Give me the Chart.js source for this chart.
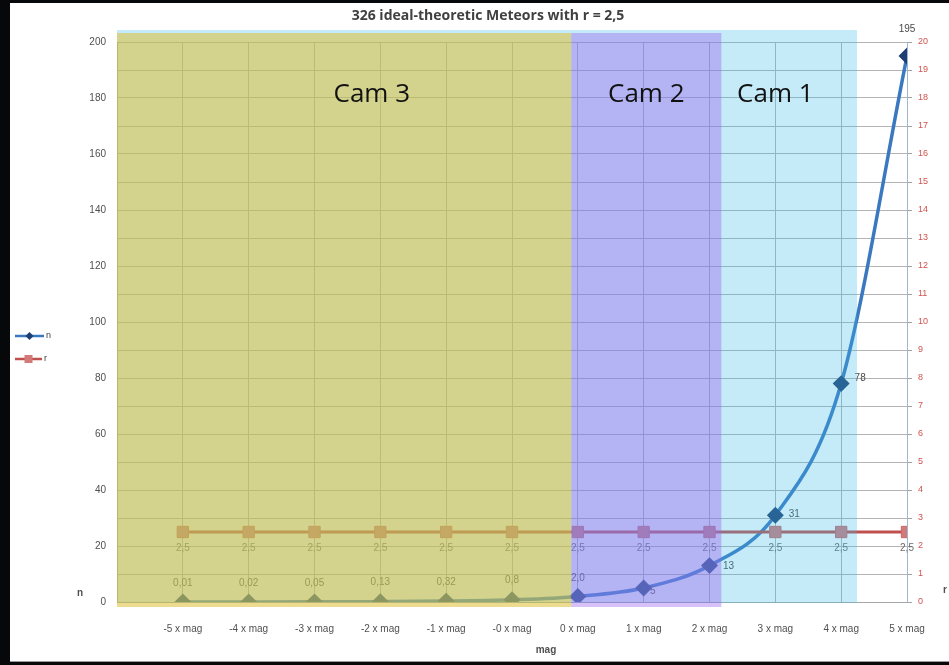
<!DOCTYPE html>
<html>
<head>
<meta charset="utf-8">
<script src="https://cdn.jsdelivr.net/npm/chart.js@4/dist/chart.umd.min.js"></script>
<style>
  html, body { margin: 0; padding: 0; background: #07080a; overflow: hidden; }
  #wrap { position: absolute; left: 0; top: 0; width: 949px; height: 665px; }
</style>
</head>
<body>
<div id="wrap"><canvas id="c" width="949" height="665"></canvas></div>
<script>
// magnitude classes along the x axis
const categories = ['-5 x mag', '-4 x mag', '-3 x mag', '-2 x mag', '-1 x mag', '-0 x mag',
                    '0 x mag', '1 x mag', '2 x mag', '3 x mag', '4 x mag', '5 x mag'];
// number of meteors per magnitude class (left axis)
const meteorsN = [0.01, 0.02, 0.05, 0.13, 0.32, 0.8, 2.0, 5, 13, 31, 78, 195];
// decimals shown in the value labels of n
const nDecimals = [2, 2, 2, 2, 2, 1, 1, 0, 0, 0, 0, 0];
// population index r (right axis)
const ratioR = [2.5, 2.5, 2.5, 2.5, 2.5, 2.5, 2.5, 2.5, 2.5, 2.5, 2.5, 2.5];
// axis ranges
const leftAxis = { min: 0, max: 200, labelStep: 20 };
const rightAxis = { min: 0, max: 20, step: 1 };
// camera zones (x in category units) and their captions
const camZones = [
  { name: 'Cam 1', from: -1, to: 10.24, labelAt: 9.0,  fill: 'rgba(62,185,232,0.30)', top: -12, bottom: 1 },
  { name: 'Cam 3', from: -1, to: 5.9,   labelAt: 2.87, fill: 'rgba(222,192,52,0.55)', top: -9,  bottom: 5 },
  { name: 'Cam 2', from: 5.9, to: 8.18, labelAt: 7.04, fill: 'rgba(155,99,240,0.40)', top: -9,  bottom: 5 }
];
const chartTitle = '326 ideal-theoretic Meteors with r = 2,5';

const fmt = (v, d) => v.toFixed(d).replace('.', ',');

const nColor = '#3a78c0';
const nMarker = '#1f3f72';
const rColor = '#c0504d';
const rMarker = '#d27a7a';
const smallFont = '"Liberation Sans", Arial, sans-serif';

// value labels: offsets relative to each point
const nLabelOffsets = [
  [0, -19], [0, -19], [0, -19], [0, -19], [0, -19], [0, -20],
  [0, -18], [9, 3], [19, 1], [19, -1], [19, -5], [0, -27]
];

const decor = {
  id: 'decor',
  beforeDraw(chart) {
    const ctx = chart.ctx;
    ctx.save();
    ctx.fillStyle = '#ffffff';
    ctx.fillRect(10, 3, 939, 659);
    ctx.fillStyle = '#9a9a9a';
    ctx.fillRect(10, 661, 939, 1);
    ctx.restore();
  },
  afterDatasetsDraw(chart) {
    const ctx = chart.ctx;
    const xs = chart.scales.x;
    const area = chart.chartArea;
    ctx.save();
    ctx.textAlign = 'center';
    ctx.textBaseline = 'middle';
    ctx.font = '10px ' + smallFont;

    // labels of n
    const nMeta = chart.getDatasetMeta(0);
    nMeta.data.forEach((pt, i) => {
      const o = nLabelOffsets[i];
      ctx.fillStyle = '#4a4a4a';
      ctx.fillText(fmt(meteorsN[i], nDecimals[i]), pt.x + o[0], pt.y + o[1]);
    });
    // labels of r
    const rMeta = chart.getDatasetMeta(1);
    rMeta.data.forEach((pt, i) => {
      ctx.fillStyle = '#6a6a6a';
      ctx.fillText(fmt(ratioR[i], 1), pt.x, pt.y + 16);
    });

    // camera zones laid over the plot
    camZones.forEach(z => {
      const x0 = xs.getPixelForValue(z.from);
      const x1 = xs.getPixelForValue(z.to);
      const y0 = area.top + z.top;
      const y1 = area.bottom + z.bottom;
      ctx.fillStyle = z.fill;
      ctx.fillRect(x0, y0, x1 - x0, y1 - y0);
    });

    // zone captions
    ctx.fillStyle = '#111111';
    ctx.font = '26px "Open Sans", "Liberation Sans", sans-serif';
    camZones.forEach(z => {
      ctx.fillText(z.name, xs.getPixelForValue(z.labelAt), 95);
    });

    // title
    ctx.fillStyle = '#404040';
    ctx.font = 'bold 14px "Open Sans", "Liberation Sans", sans-serif';
    ctx.fillText(chartTitle, 488, 16);

    // axis titles
    ctx.font = 'bold 10px ' + smallFont;
    ctx.fillStyle = '#505050';
    ctx.fillText('n', 80, 593);
    ctx.fillText('r', 945, 590);
    ctx.fillText('mag', 546, 650);

    // legend
    const legendRows = [
      { label: 'n', y: 336, x0: 15, x1: 44, color: nColor, marker: nMarker, style: 'diamond' },
      { label: 'r', y: 359, x0: 15, x1: 42, color: rColor, marker: rMarker, style: 'square' }
    ];
    legendRows.forEach(r => {
      ctx.strokeStyle = r.color;
      ctx.lineWidth = 2.5;
      ctx.beginPath();
      ctx.moveTo(r.x0, r.y);
      ctx.lineTo(r.x1, r.y);
      ctx.stroke();
      const cx = (r.x0 + r.x1) / 2;
      ctx.fillStyle = r.marker;
      ctx.beginPath();
      if (r.style === 'diamond') {
        ctx.moveTo(cx, r.y - 4); ctx.lineTo(cx + 4, r.y); ctx.lineTo(cx, r.y + 4); ctx.lineTo(cx - 4, r.y);
      } else {
        ctx.rect(cx - 4, r.y - 4, 8, 8);
      }
      ctx.closePath();
      ctx.fill();
      ctx.fillStyle = '#404040';
      ctx.font = '9px ' + smallFont;
      ctx.textAlign = 'left';
      ctx.fillText(r.label, r.x1 + 2, r.y);
      ctx.textAlign = 'center';
    });
    ctx.restore();
  }
};

new Chart(document.getElementById('c'), {
  type: 'line',
  data: {
    datasets: [
      {
        label: 'n',
        data: meteorsN.map((v, i) => ({ x: i, y: v })),
        yAxisID: 'y',
        borderColor: nColor,
        borderWidth: 3.5,
        cubicInterpolationMode: 'monotone',
        pointStyle: 'rectRot',
        pointRadius: 6,
        pointBackgroundColor: nMarker,
        pointBorderColor: nMarker,
        order: 2
      },
      {
        label: 'r',
        data: ratioR.map((v, i) => ({ x: i, y: v })),
        yAxisID: 'y2',
        borderColor: rColor,
        borderWidth: 3,
        pointStyle: 'rect',
        pointRadius: 8,
        pointBackgroundColor: rMarker,
        pointBorderColor: '#c86868',
        pointBorderWidth: 1,
        order: 1
      }
    ]
  },
  options: {
    responsive: false,
    animation: false,
    devicePixelRatio: 1,
    layout: { padding: { top: 42, left: 0, right: 0, bottom: 0 } },
    plugins: { legend: { display: false }, title: { display: false }, tooltip: { enabled: false } },
    scales: {
      x: {
        type: 'linear',
        position: 'bottom',
        min: -1,
        max: 11,
        afterFit: s => { s.height = 63; },
        afterBuildTicks: s => { s.ticks = []; for (let v = -1; v <= 11; v++) s.ticks.push({ value: v }); },
        ticks: {
          autoSkip: false,
          maxRotation: 0,
          padding: 21,
          color: '#505050',
          font: { size: 10, family: smallFont },
          callback: v => categories[v] ?? ''
        },
        grid: { color: '#b4b4b4', drawTicks: false },
        border: { color: '#a6a6a6' }
      },
      y: {
        position: 'left',
        min: leftAxis.min,
        max: leftAxis.max,
        afterFit: s => { s.width = 117; },
        ticks: {
          stepSize: 10,
          autoSkip: false,
          padding: 11,
          color: '#505050',
          font: { size: 10, family: smallFont },
          callback: v => (v % leftAxis.labelStep === 0 ? String(v) : '')
        },
        grid: { color: '#b4b4b4', drawTicks: false },
        border: { color: '#a6a6a6' }
      },
      y2: {
        position: 'right',
        min: rightAxis.min,
        max: rightAxis.max,
        afterFit: s => { s.width = 42; },
        ticks: {
          stepSize: rightAxis.step,
          autoSkip: false,
          padding: 6,
          color: '#d0524e',
          font: { size: 9, family: smallFont }
        },
        grid: { drawOnChartArea: false, tickLength: 5, color: '#a0a0a0' },
        border: { color: '#9fb6cf' }
      }
    }
  },
  plugins: [decor]
});
</script>
</body>
</html>
